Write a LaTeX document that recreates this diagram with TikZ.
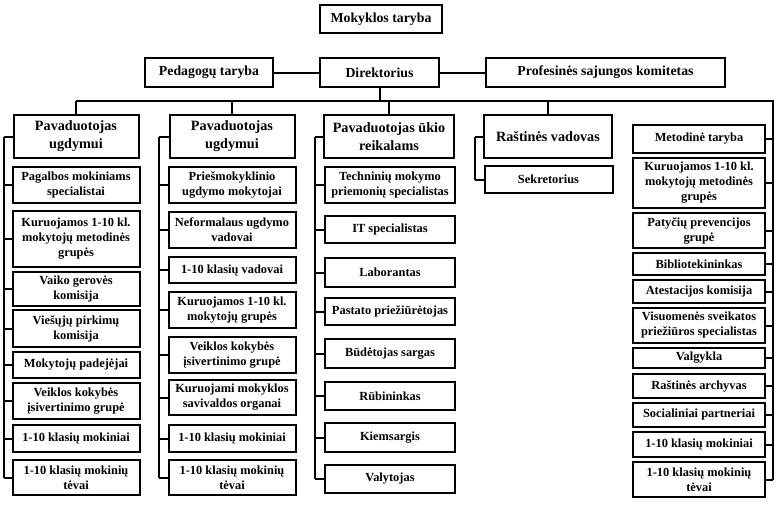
\documentclass[tikz,border=0pt]{standalone}
\usepackage{fontspec}
\setmainfont{Liberation Serif}
\usepackage{tikz}
\usetikzlibrary{positioning, calc}

\begin{document}
\begin{tikzpicture}[
    x=1pt, y=-1pt,
    box/.style={draw, line width=2pt, align=center, inner sep=2pt, font=\fontsize{12.4}{15}\selectfont\bfseries},
    topbox/.style={box, minimum height=29pt, font=\fontsize{13.8}{16}\selectfont\bfseries},
    headbox/.style={box, minimum height=43pt, font=\fontsize{14.2}{18}\selectfont\bfseries},
    colA/.style={box, minimum width=127pt},
    colB/.style={box, minimum width=127pt},
    colC/.style={box, minimum width=130pt},
    colD/.style={box, minimum width=128pt},
    colE/.style={box, minimum width=132pt},
    conn/.style={line width=2pt}
]
\useasboundingbox (0,0) rectangle (780,504);

% === TOP ===
\node[topbox, minimum width=122pt, minimum height=28pt] (mt) at (381, 19) {Mokyklos taryba};
\node[topbox, minimum width=128pt] (pt) at (209, 72.5) {Pedagogų taryba};
\node[topbox, minimum width=119pt] (dir) at (379.5, 72.5) {Direktorius};
\node[topbox, minimum width=239pt] (psk) at (605.5, 72.5) {Profesinės sajungos komitetas};

% === COLUMN HEADERS ===
\node[headbox, minimum width=125pt] (ha) at (76, 136.5) {Pavaduotojas\\ugdymui};
\node[headbox, minimum width=125pt] (hb) at (232, 136.5) {Pavaduotojas\\ugdymui};
\node[headbox, minimum width=130pt] (hc) at (389, 136.5) {Pavaduotojas ūkio\\reikalams};
\node[headbox, minimum width=128pt] (hd) at (548, 136.5) {Raštinės vadovas};

% === COLUMN A ===
\node[colA, minimum height=36pt] (a1) at (76, 185) {Pagalbos mokiniams\\specialistai};
\node[colA, minimum height=56pt] (a2) at (76, 239) {Kuruojamos 1-10 kl.\\mokytojų metodinės\\grupės};
\node[colA, minimum height=34pt] (a3) at (76, 289) {Vaiko gerovės\\komisija};
\node[colA, minimum height=37pt] (a4) at (76, 328.5) {Viešųjų pirkimų\\komisija};
\node[colA, minimum height=26pt] (a5) at (76, 365) {Mokytojų padejėjai};
\node[colA, minimum height=36pt] (a6) at (76, 401) {Veiklos kokybės\\įsivertinimo grupė};
\node[colA, minimum height=27pt] (a7) at (76, 438.5) {1-10 klasių mokiniai};
\node[colA, minimum height=35pt] (a8) at (76, 477.5) {1-10 klasių mokinių\\tėvai};

% === COLUMN B ===
\node[colB, minimum height=36pt] (b1) at (232, 185) {Priešmokyklinio\\ugdymo mokytojai};
\node[colB, minimum height=36pt] (b2) at (232, 230) {Neformalaus ugdymo\\vadovai};
\node[colB, minimum height=26pt] (b3) at (232, 270) {1-10 klasių vadovai};
\node[colB, minimum height=36pt] (b4) at (232, 310) {Kuruojamos 1-10 kl.\\mokytojų grupės};
\node[colB, minimum height=36pt] (b5) at (232, 355) {Veiklos kokybės\\įsivertinimo grupė};
\node[colB, minimum height=35pt] (b6) at (232, 397.5) {Kuruojami mokyklos\\savivaldos organai};
\node[colB, minimum height=27pt] (b7) at (232, 438.5) {1-10 klasių mokiniai};
\node[colB, minimum height=35pt] (b8) at (232, 477.5) {1-10 klasių mokinių\\tėvai};

% === COLUMN C ===
\node[colC, minimum height=36pt] (c1) at (390, 185) {Techninių mokymo\\priemonių specialistas};
\node[colC, minimum height=27pt] (c2) at (390, 229.5) {IT specialistas};
\node[colC, minimum height=29pt] (c3) at (390, 272.5) {Laborantas};
\node[colC, minimum height=27pt] (c4) at (390, 311.5) {Pastato priežiūrėtojas};
\node[colC, minimum height=29pt] (c5) at (390, 353.5) {Būdėtojas sargas};
\node[colC, minimum height=28pt] (c6) at (390, 396) {Rūbininkas};
\node[colC, minimum height=29pt] (c7) at (390, 437.5) {Kiemsargis};
\node[colC, minimum height=28pt] (c8) at (390, 479) {Valytojas};

% === COLUMN D ===
\node[colD, minimum height=27pt] (d1) at (548.5, 179.5) {Sekretorius};

% === COLUMN E ===
\node[colE, minimum height=28pt] (e1) at (699, 139) {Metodinė taryba};
\node[colE, minimum height=50pt] (e2) at (699, 183) {Kuruojamos 1-10 kl.\\mokytojų metodinės\\grupės};
\node[colE, minimum height=35pt] (e3) at (699, 230.5) {Patyčių prevencijos\\grupė};
\node[colE, minimum height=22pt] (e4) at (699, 264) {Bibliotekininkas};
\node[colE, minimum height=23pt] (e5) at (699, 291.5) {Atestacijos komisija};
\node[colE, minimum height=35pt] (e6) at (699, 325.5) {Visuomenės sveikatos\\priežiūros specialistas};
\node[colE, minimum height=20pt] (e7) at (699, 358) {Valgykla};
\node[colE, minimum height=24pt] (e8) at (699, 386) {Raštinės archyvas};
\node[colE, minimum height=24pt] (e9) at (699, 415) {Socialiniai partneriai};
\node[colE, minimum height=25pt] (e10) at (699, 444.5) {1-10 klasių mokiniai};
\node[colE, minimum height=35pt] (e11) at (699, 479.5) {1-10 klasių mokinių\\tėvai};

% === CONNECTORS ===
\coordinate (bus) at (0, 101);
\coordinate (barA) at (4, 0);
\coordinate (barB) at (159, 0);
\coordinate (barC) at (315, 0);
\coordinate (barD) at (475, 0);
\coordinate (barE) at (773, 0);

\draw[conn] (pt) -- (dir);
\draw[conn] (dir) -- (psk);
\draw[conn] (dir.south) -- (dir.south |- bus);
\draw[conn] (ha.north |- bus) -- (barE |- bus) -- (e11.east -| barE);
\foreach \n in {ha, hb, hc, hd} {
    \draw[conn] (\n.north) -- (\n.north |- bus);
}

\draw[conn] (ha.west -| barA) -- (a8.west -| barA);
\foreach \n in {ha, a1, a2, a3, a4, a5, a6, a7, a8} {
    \draw[conn] (\n.west) -- (\n.west -| barA);
}
\draw[conn] (hb.west -| barB) -- (b8.west -| barB);
\foreach \n in {hb, b1, b2, b3, b4, b5, b6, b7, b8} {
    \draw[conn] (\n.west) -- (\n.west -| barB);
}
\draw[conn] (hc.west -| barC) -- (c8.west -| barC);
\foreach \n in {hc, c1, c2, c3, c4, c5, c6, c7, c8} {
    \draw[conn] (\n.west) -- (\n.west -| barC);
}
\draw[conn] (hd.west -| barD) -- (d1.west -| barD);
\foreach \n in {hd, d1} {
    \draw[conn] (\n.west) -- (\n.west -| barD);
}
\foreach \n in {e1, e2, e3, e4, e5, e6, e7, e8, e9, e10, e11} {
    \draw[conn] (\n.east) -- (\n.east -| barE);
}

\end{tikzpicture}
\end{document}
